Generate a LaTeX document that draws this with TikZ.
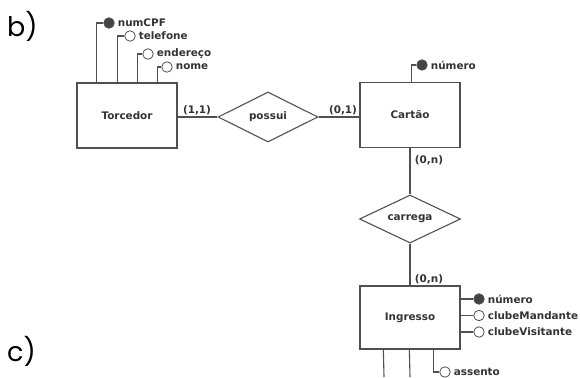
\documentclass[tikz,border=0pt]{standalone}
\usepackage{fontspec}
\setmainfont{DejaVu Sans}
\newfontfamily\lblfont{Poppins}
\usetikzlibrary{shapes.geometric}
\definecolor{ln}{HTML}{505050}
\definecolor{tx}{HTML}{333333}
\definecolor{fillk}{HTML}{444444}
\tikzset{
  ent/.style={draw=ln, line width=1.3pt, minimum width=100pt, inner sep=0pt, font=\fontsize{10.4}{12}\selectfont\bfseries, text=tx},
  rel/.style={draw=ln, line width=1.1pt, diamond, aspect=2, inner sep=0pt, font=\fontsize{10.4}{12}\selectfont\bfseries, text=tx},
  conn/.style={draw=ln, line width=1.1pt},
  keyattr/.style={circle, draw=ln, fill=fillk, line width=0.8pt, minimum size=10.5pt, inner sep=0pt},
  attr/.style={circle, draw=ln, fill=white, line width=0.8pt, minimum size=10.5pt, inner sep=0pt},
  atxt/.style={anchor=west, inner sep=1pt, font=\fontsize{10.4}{12}\selectfont\bfseries, text=tx},
  card/.style={inner sep=0pt, font=\fontsize{10.4}{12}\selectfont\bfseries, text=tx},
  part/.style={anchor=base west, inner sep=0pt, font=\lblfont\fontsize{27}{30}\selectfont, text=black}
}
\begin{document}
\begin{tikzpicture}[x=1pt,y=-1pt]
\useasboundingbox (0,0) rectangle (580,377);
% part labels
\node[part] (lb) at (7,37) {b)};
\node[part] (lc) at (7,361) {c)};
% entities
\node[ent, minimum height=65pt] (tor) at (127,115.5) {Torcedor};
\node[ent, minimum height=65pt] (cart) at (410,115) {Cartão};
\node[ent, minimum height=63pt] (ing) at (410,317.5) {Ingresso};
% relationships
\node[rel, minimum width=100pt, minimum height=50pt] (pos) at (268,117) {possui};
\node[rel, minimum width=101pt, minimum height=48pt] (carr) at (410,219) {carrega};
% connectors
\draw[conn] (tor.east |- pos.west) -- (pos.west);
\draw[conn] (pos.east) -- (cart.west |- pos.east);
\draw[conn] (cart.south) -- (carr.north);
\draw[conn] (carr.south) -- (ing.north);
% cardinalities
\node[card] (c11) at (197,110) {(1,1)};
\node[card] (c01) at (343,110) {(0,1)};
\node[card] (c0n1) at (429,160) {(0,n)};
\node[card] (c0n2) at (429,279) {(0,n)};
% Torcedor attributes
\node[keyattr] (tcpf) at (109,23) {};
\node[attr] (ttel) at (130,36) {};
\node[attr] (tend) at (148,54) {};
\node[attr] (tnom) at (167,67) {};
\node[atxt] at ([xshift=2pt]tcpf.east) {numCPF};
\node[atxt] at ([xshift=2pt]ttel.east) {telefone};
\node[atxt] at ([xshift=2pt]tend.east) {endereço};
\node[atxt] at ([xshift=2pt]tnom.east) {nome};
\draw[conn] ([xshift=20pt]tor.north west) |- (tcpf.west);
\draw[conn] ([xshift=41pt]tor.north west) |- (ttel.west);
\draw[conn] ([xshift=61pt]tor.north west) |- (tend.west);
\draw[conn] ([xshift=81pt]tor.north west) |- (tnom.west);
% Cartão attribute
\node[keyattr] (cnum) at (422,65) {};
\node[atxt] at ([xshift=2pt]cnum.east) {número};
\draw[conn] ([xshift=52pt]cart.north west) |- (cnum.west);
% Ingresso attributes
\node[keyattr] (inum) at (479,299) {};
\node[attr] (imand) at (479,315.5) {};
\node[attr] (ivis) at (479,332) {};
\node[attr] (iass) at (445,372) {};
\node[atxt] at ([xshift=2pt]inum.east) {número};
\node[atxt] at ([xshift=2pt]imand.east) {clubeMandante};
\node[atxt] at ([xshift=2pt]ivis.east) {clubeVisitante};
\node[atxt] at ([xshift=2pt]iass.east) {assento};
\draw[conn] (ing.east |- inum) -- (inum.west);
\draw[conn] (ing.east |- imand) -- (imand.west);
\draw[conn] (ing.east |- ivis) -- (ivis.west);
\draw[conn] ([xshift=74pt]ing.south west) |- (iass.west);
\coordinate (b1) at (384,377);
\coordinate (b2) at (410,377);
\draw[conn] ([xshift=24pt]ing.south west) -- (b1);
\draw[conn] ([xshift=50pt]ing.south west) -- (b2);
\end{tikzpicture}
\end{document}
